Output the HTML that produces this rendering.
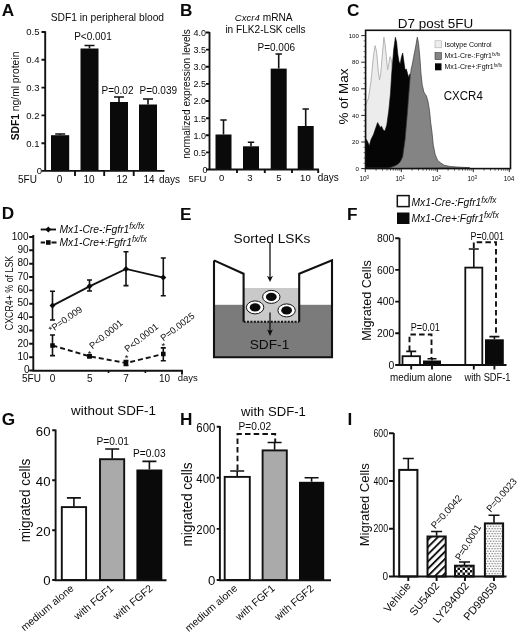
<!DOCTYPE html>
<html><head><meta charset="utf-8">
<style>
html,body{margin:0;padding:0;background:#fff;}
body{width:520px;height:635px;overflow:hidden;}
svg{display:block;will-change:transform;font-family:"Liberation Sans",sans-serif;fill:#0a0a0a;}
.b{font-weight:bold}
.i{font-style:italic}
.ax{stroke:#111;stroke-width:1.9;fill:none;stroke-linecap:butt}
.er{stroke:#111;stroke-width:1.6;fill:none}
.ds{stroke:#111;stroke-width:1.9;fill:none;stroke-dasharray:5.5 3.2}
</style></head><body>
<svg width="520" height="635" viewBox="0 0 520 635">
<rect width="520" height="635" fill="#fff"/>
<defs>
<pattern id="hatch" width="5.1" height="5.1" patternUnits="userSpaceOnUse" patternTransform="rotate(-45)"><rect width="5.1" height="5.1" fill="#fff"/><rect width="5.1" height="1.9" fill="#111"/></pattern>
<pattern id="check" width="5" height="5" patternUnits="userSpaceOnUse"><rect width="5" height="5" fill="#fff"/><rect width="2.5" height="2.5" fill="#111"/><rect x="2.5" y="2.5" width="2.5" height="2.5" fill="#111"/></pattern>
<pattern id="dots" width="2.8" height="5" patternUnits="userSpaceOnUse"><rect width="2.8" height="5" fill="#fdfdfd"/><circle cx="0.7" cy="1.2" r="0.62" fill="#555"/><circle cx="2.1" cy="3.7" r="0.62" fill="#555"/></pattern>
</defs>

<!-- ===== Panel A ===== -->
<g id="pA">
<text class="b" x="1.7" y="15.9" font-size="17.2">A</text>
<text x="50.700" y="20.700" font-size="10.250">SDF1 in peripheral blood</text>
<g font-size="9.5" text-anchor="end">
<text x="39.5" y="35">0.5</text><text x="39.5" y="63">0.4</text><text x="39.5" y="90.5">0.3</text><text x="39.5" y="118.5">0.2</text><text x="39.5" y="146.5">0.1</text><text x="42" y="174">0</text>
</g>
<text transform="translate(19.4,96) rotate(-90)" text-anchor="middle" font-size="10.3"><tspan class="b">SDF1</tspan> ng/ml protein</text>
<rect x="51" y="135.2" width="18.2" height="36"/>
<rect x="80.5" y="48.5" width="18" height="122.5"/>
<rect x="110" y="102" width="18" height="69"/>
<rect x="139" y="104.5" width="18" height="66.5"/>
<path class="er" d="M60.2 135V134M55.2 134h10 M89.500 48.500V45.500M84.5 45.500h10 M119 102V97M114 97h10 M148 104.500V99M143 99h10"/>
<path class="ax" d="M45.200 31.200V170.900H164.500 M41.500 32H45.200M41.500 59.800H45.200M41.500 87.600H45.200M41.500 115.400H45.200M41.500 143.200H45.200M41.500 170.900H45.200 M75 170.900v5M104.200 170.900v5M133.700 170.900v5"/>
<g font-size="10">
<text x="101.500" y="93.500">P=0.02</text><text x="139.500" y="93.500">P=0.039</text><text x="74.200" y="40">P&lt;0.001</text>
</g>
<g font-size="10" text-anchor="middle">
<text x="27.500" y="183">5FU</text><text x="59.500" y="183">0</text><text x="89" y="183">10</text><text x="122" y="183">12</text><text x="149" y="183">14</text><text x="169.500" y="183">days</text>
</g>
</g>

<!-- ===== Panel B ===== -->
<g id="pB">
<text class="b" x="180" y="15.9" font-size="17.2">B</text>
<text x="263.700" y="20.700" font-size="10.200" text-anchor="middle"><tspan class="i" font-size="9.600">Cxcr4</tspan>  mRNA</text>
<text x="265.500" y="32.500" font-size="10.100" text-anchor="middle">in FLK2-LSK cells</text>
<g font-size="9" text-anchor="end">
<text x="206" y="35.500">4.0</text><text x="206" y="52.700">3.5</text><text x="206" y="69.900">3.0</text><text x="206" y="87.100">2.5</text><text x="206" y="104.300">2.0</text><text x="206" y="121.500">1.5</text><text x="206" y="138.700">1.0</text><text x="206" y="155.900">0.5</text><text x="207.500" y="172.500">0</text>
</g>
<text transform="translate(189.6,94) rotate(-90)" text-anchor="middle" font-size="10.1">normalized expression levels</text>
<rect x="215.500" y="134.500" width="16" height="35"/>
<rect x="243" y="146.300" width="16" height="23.200"/>
<rect x="270.700" y="68.600" width="16" height="101"/>
<rect x="297.700" y="126" width="16" height="43.500"/>
<path class="er" stroke-width="1.8" d="M223.500 134.500V120M220.300 120h6.400 M251 146.300V142.300M247.800 142.300h6.400 M278.700 68.600V54M275.500 54h6.400 M305.700 126V109M302.500 109h6.400"/>
<path class="ax" d="M209.500 32V169.500H319 M206 32.500h3.500M206 49.600h3.500M206 66.800h3.500M206 83.900h3.500M206 101h3.500M206 118.200h3.500M206 135.300h3.500M206 152.400h3.500M206 169.500h3.500 M237 169.500v3.5M264.800 169.500v3.5M292 169.500v3.5M318.2 169.500v3.5"/>
<text x="257.5" y="50.700" font-size="10">P=0.006</text>
<g font-size="9.500" text-anchor="middle">
<text x="197.5" y="181.5">5FU</text><text x="221.700" y="181">0</text><text x="250" y="181">3</text><text x="279" y="181">5</text><text x="305.400" y="181">10</text><text x="328.3" y="181" font-size="10">days</text>
</g>
</g>

<!-- ===== Panel C ===== -->
<g id="pC">
<text class="b" x="347" y="16" font-size="17.2">C</text>
<text x="435.5" y="27.7" font-size="12.5" text-anchor="middle" textLength="75.5" lengthAdjust="spacingAndGlyphs">D7 post 5FU</text>
<text transform="translate(348.3,96.5) rotate(-90)" text-anchor="middle" font-size="12" textLength="56" lengthAdjust="spacingAndGlyphs">% of Max</text>
<path d="M365.4 167.7 L365.4 105.5 L368.5 98.2 L371.0 81.1 L373.4 56.7 L375.1 45.7 L376.6 51.8 L378.3 71.3 L379.5 79.9 L380.7 73.8 L382.4 54.3 L383.9 37.2 L385.1 44.5 L386.3 56.7 L387.6 70.1 L388.8 64.0 L390.0 56.7 L391.2 59.1 L392.9 73.8 L395.4 105.5 L399.0 142.1 L403.9 161.6 L408.8 167.7Z" fill="#ececec" stroke="#b4b4b4" stroke-width="1"/>
<path d="M365.4 167.7 L365.4 138.4 L367.3 140.9 L369.3 145.7 L371.0 139.6 L373.4 134.8 L375.9 127.4 L377.6 122.6 L379.0 125.0 L380.2 127.4 L381.5 126.2 L383.2 129.9 L384.9 131.1 L386.8 125.0 L388.8 110.4 L390.5 93.3 L391.7 73.8 L393.7 49.4 L395.4 37.2 L396.6 42.1 L397.8 54.3 L399.0 61.6 L400.2 64.0 L401.5 56.7 L402.7 53.0 L403.9 61.6 L405.1 70.1 L406.3 68.9 L407.6 73.8 L408.8 77.4 L410.0 73.8 L412.4 88.4 L416.1 122.6 L421.0 151.8 L427.1 167.7Z" fill="#050505" stroke="#050505" stroke-width="0.6"/>
<path d="M387.5 168.6 L390.5 167.6 L394 166.3 L397.5 164.6 L400.2 162 L402.7 156.7 L405.1 139.6 L407.6 110.4 L410.0 78.7 L411.2 68.9 L412.4 64.0 L413.7 56.7 L415.6 47.0 L417.3 37.2 L418.5 43.3 L419.8 56.7 L421.0 73.8 L422.2 84.8 L423.9 92.1 L425.4 94.5 L426.3 95.7 L427.8 100.6 L429.5 110.4 L430.7 122.6 L432.0 132.3 L433.2 144.5 L435.1 154.3 L437.6 160.4 L440.5 162.8 L444.1 165.2 L450.2 166.5 L460.0 167.2 L469.8 167.7Z" fill="#848484" stroke="#3a3a3a" stroke-width="0.7"/>
<rect x="365.6" y="30.3" width="144.9" height="138.3" fill="none" stroke="#111" stroke-width="1.6"/>
<path stroke="#111" stroke-width="0.9" fill="none" d="M361.2 35.6h4.1M361.2 62.2h4.1M361.2 88.8h4.1M361.2 115.4h4.1M361.2 142h4.1M361.2 168.6h4.1 M365.3 168.6v3.5M401.3 168.6v3.5M437.3 168.6v3.5M473.3 168.6v3.5M509.3 168.6v3.5"/>
<path stroke="#111" stroke-width="0.6" fill="none" d="M376.1 168.6v2.2M382.5 168.6v2.2M387.0 168.6v2.2M390.5 168.6v2.2M393.3 168.6v2.2M395.7 168.6v2.2M397.8 168.6v2.2M399.7 168.6v2.2M412.1 168.6v2.2M418.5 168.6v2.2M423.0 168.6v2.2M426.5 168.6v2.2M429.3 168.6v2.2M431.7 168.6v2.2M433.8 168.6v2.2M435.7 168.6v2.2M448.1 168.6v2.2M454.5 168.6v2.2M459.0 168.6v2.2M462.5 168.6v2.2M465.3 168.6v2.2M467.7 168.6v2.2M469.8 168.6v2.2M471.7 168.6v2.2M484.1 168.6v2.2M490.5 168.6v2.2M495.0 168.6v2.2M498.5 168.6v2.2M501.3 168.6v2.2M503.7 168.6v2.2M505.8 168.6v2.2M507.7 168.6v2.2"/>
<path stroke="#111" stroke-width="0.6" fill="none" d="M363.6 40.9h2M363.6 46.2h2M363.6 51.6h2M363.6 56.9h2M363.6 67.5h2M363.6 72.8h2M363.6 78.2h2M363.6 83.5h2M363.6 94.1h2M363.6 99.4h2M363.6 104.8h2M363.6 110.1h2M363.6 120.7h2M363.6 126.0h2M363.6 131.4h2M363.6 136.7h2M363.6 147.3h2M363.6 152.6h2M363.6 158.0h2M363.6 163.3h2"/>
<g font-size="6.1" text-anchor="end">
<text x="358.8" y="37.8">100</text><text x="358.8" y="64.4">80</text><text x="358.8" y="91.0">60</text><text x="358.8" y="117.6">40</text><text x="358.8" y="144.2">20</text><text x="358.8" y="170.8">0</text>
</g>
<g font-size="6.4" text-anchor="middle">
<text x="364.3" y="181.3">10<tspan dy="-2.5" font-size="4.5">0</tspan></text><text x="400.3" y="181.3">10<tspan dy="-2.5" font-size="4.5">1</tspan></text><text x="436.3" y="181.3">10<tspan dy="-2.5" font-size="4.5">2</tspan></text><text x="472.3" y="181.3">10<tspan dy="-2.5" font-size="4.5">3</tspan></text><text x="509" y="181.3">104</text>
</g>
<rect x="435" y="40.8" width="6.5" height="7" fill="#ededed" stroke="#aaa" stroke-width="0.6"/>
<rect x="435" y="52.6" width="6.5" height="7" fill="#848484" stroke="#3a3a3a" stroke-width="0.6"/>
<rect x="435" y="63.3" width="6.5" height="7" fill="#050505"/>
<g font-size="7">
<text x="444.5" y="46.5">Isotype Control</text>
<text x="444.5" y="58.2">Mx1-Cre-:Fgfr1<tspan dy="-2.2" font-size="4.6">fx/fx</tspan></text>
<text x="444.5" y="69">Mx1-Cre+:Fgfr1<tspan dy="-2.2" font-size="4.6">fx/fx</tspan></text>
</g>
<text x="443.8" y="99.7" font-size="12.5" textLength="39" lengthAdjust="spacingAndGlyphs">CXCR4</text>
</g>

<!-- ===== Panel D ===== -->
<g id="pD">
<text class="b" x="1.7" y="219.4" font-size="17.2">D</text>
<path class="ax" d="M40.700 229.500H56"/>
<path d="M48.300 226.500l3 3l-3 3l-3-3z"/>
<path class="ax" d="M40.700 242.500H45M51.5 242.5H56.5"/>
<rect x="46" y="240.200" width="4.600" height="4.600"/>
<g font-size="10.3" class="i">
<text x="59.5" y="232.500">Mx1-Cre-:Fgfr1<tspan dy="-3.6" font-size="8.2">fx/fx</tspan></text>
<text x="59.5" y="245.500">Mx1-Cre+:Fgfr1<tspan dy="-3.6" font-size="8.2">fx/fx</tspan></text>
</g>
<g font-size="10" text-anchor="end">
<text x="28.5" y="239.6">100</text><text x="28.5" y="253.0">90</text><text x="28.5" y="266.3">80</text><text x="28.5" y="279.7">70</text><text x="28.5" y="293.1">60</text><text x="28.5" y="306.4">50</text><text x="28.5" y="319.8">40</text><text x="28.5" y="333.2">30</text><text x="28.5" y="346.5">20</text><text x="28.5" y="359.9">10</text><text x="29.500" y="373.3">0</text>
</g>
<text transform="translate(13.2,293) rotate(-90)" text-anchor="middle" font-size="10.400" textLength="74.500" lengthAdjust="spacingAndGlyphs">CXCR4+ % of LSK</text>
<path class="ax" d="M33.300 235V370.800H182v3.500 M29.200 237H33.300M29.200 250.300H33.300M29.200 263.700H33.300M29.200 277H33.300M29.200 290.400H33.300M29.200 303.800H33.300M29.200 317.100H33.300M29.200 330.500H33.300M29.200 343.800H33.300M29.200 357.200H33.300M29.200 370.500H33.300"/>
<path class="er" stroke-width="1" d="M108.500 370.500v2.500M145.400 370.500v2.500"/>
<path class="ax" stroke-width="1.900" d="M52.500 305.600L89.500 286.300L126 268.900L163.300 277.600"/>
<path class="er" stroke-width="1.8" d="M52.500 291.300V320M50 291.300h5M50 320h5 M89.500 280V291M87 280h5M87 291h5 M126 251.700V285.600M123.500 251.700h5M123.500 285.600h5 M163.300 258V295.700M160.800 258h5M160.800 295.700h5"/>
<path d="M52.500 302.600l3 3l-3 3l-3-3z M89.500 283.300l3 3l-3 3l-3-3z M126 265.900l3 3l-3 3l-3-3z M163.300 274.600l3 3l-3 3l-3-3z"/>
<path class="ax" stroke-width="1.900" stroke-dasharray="5 3" d="M52.500 345.500L89.500 356.300L126 363L163.300 354"/>
<path class="er" stroke-width="1.8" d="M52.500 335V355.600M50 335h5M50 355.600h5 M89.500 354.800V357.800M87 354.800h5M87 357.800h5 M126 360.500V365.500M123.500 360.500h5M123.500 365.500h5 M163.300 347.900V360.700M160.800 347.900h5M160.800 360.700h5"/>
<path d="M50.200 343.200h4.600v4.600h-4.600z M87.200 354h4.600v4.600h-4.600z M123.700 360.700h4.600v4.600h-4.600z M161 351.700h4.600v4.600h-4.600z"/>
<g font-size="9.3">
<text transform="translate(51.5,333) rotate(-35)">*P=0.009</text>
<text transform="translate(92.5,349.5) rotate(-39.5)">P&lt;0.0001</text>
<text transform="translate(127.5,352.5) rotate(-38)">P&lt;0.0001</text>
<text transform="translate(163.5,341.5) rotate(-37.5)">P=0.0025</text>
<text x="87.7" y="356.5">*</text><text x="124.8" y="361">*</text><text x="161.5" y="349">*</text>
</g>
<g font-size="10" text-anchor="middle">
<text x="31.500" y="381.500">5FU</text><text x="52.500" y="381.500">0</text><text x="89.700" y="381.500">5</text><text x="126" y="381.500">7</text><text x="164.5" y="381.500">10</text><text x="187.8" y="380.7" font-size="9.500">days</text>
</g>
</g>

<!-- ===== Panel E ===== -->
<g id="pE">
<text class="b" x="180" y="219.5" font-size="17.2">E</text>
<text x="272" y="242.500" font-size="13.700" text-anchor="middle">Sorted LSKs</text>
<rect x="214" y="304.800" width="118" height="52.500" fill="#7b7b7b"/>
<rect x="243.600" y="288" width="55.600" height="33.800" fill="#c9c9c9"/>
<path d="M214 260.400V357.300H332V260.400L299.200 273.800V321.800M243.600 321.800V273.800L214 260.400" fill="none" stroke="#111" stroke-width="2.1" stroke-linejoin="miter"/>
<path d="M243.600 321.800H299.200" stroke="#111" stroke-width="2" stroke-dasharray="2 1.400" fill="none"/>
<g stroke="#111" stroke-width="1" fill="#fff">
<ellipse cx="271.300" cy="296.900" rx="8.7" ry="6.5"/><ellipse cx="255.100" cy="307.400" rx="8.7" ry="6.5"/><ellipse cx="286.600" cy="310.400" rx="8.7" ry="6.5"/>
</g>
<ellipse cx="271.300" cy="296.900" rx="5.4" ry="4.2"/><ellipse cx="255.100" cy="307.400" rx="5.4" ry="4.2"/><ellipse cx="286.600" cy="310.400" rx="5.4" ry="4.2"/>
<path d="M270 243V278" stroke="#111" stroke-width="1.300" fill="none"/><path d="M267 275.800L270 282L273 275.800L270 277.500z"/>
<path d="M270 312.500V332" stroke="#111" stroke-width="1.300" fill="none"/><path d="M267.200 329.500L270 336L272.800 329.500L270 331z"/>
<text x="269.500" y="348.700" font-size="13.7" text-anchor="middle">SDF-1</text>
</g>

<!-- ===== Panel F ===== -->
<g id="pF">
<text class="b" x="347" y="219.5" font-size="17.2">F</text>
<rect x="397.300" y="195.600" width="11.800" height="11" fill="#fff" stroke="#111" stroke-width="1.500"/>
<rect x="397" y="212.500" width="12.500" height="11.500"/>
<g font-size="10.300" class="i">
<text x="411.500" y="206.300">Mx1-Cre-:Fgfr1<tspan dy="-3.6" font-size="8.2">fx/fx</tspan></text>
<text x="411.500" y="221.800">Mx1-Cre+:Fgfr1<tspan dy="-3.6" font-size="8.2">fx/fx</tspan></text>
</g>
<g font-size="10.400" text-anchor="end">
<text x="394.300" y="241.900">800</text><text x="394.300" y="273.600">600</text><text x="394.300" y="305.300">400</text><text x="394.300" y="337">200</text><text x="394.300" y="368.700">0</text>
</g>
<text transform="translate(370.8,300.500) rotate(-90)" text-anchor="middle" font-size="12.500" textLength="80.500" lengthAdjust="spacingAndGlyphs">Migrated Cells</text>
<rect x="402.500" y="356.200" width="17.500" height="8.800" fill="#fff" stroke="#111" stroke-width="1.800"/>
<rect x="423" y="360.500" width="18" height="4.500"/>
<rect x="465.300" y="267.600" width="17" height="97.400" fill="#fff" stroke="#111" stroke-width="1.800"/>
<rect x="485" y="339.300" width="18.800" height="25.700"/>
<path class="er" d="M411.200 356.200V351.400M406.200 351.400h10 M432 360.500V358.700M427.500 358.700h9 M473.800 267.600V249M468.800 249h10 M494.400 339.300V336.600M489.400 336.600h10"/>
<path class="ax" d="M399.500 238V365H506.500 M395.200 238.200h4.300M395.200 269.900h4.300M395.200 301.600h4.300M395.200 333.300h4.300M395.200 365h4.300 M411.200 365v4.500M432 365v4.500M473.800 365v4.500M494.400 365v4.500"/>
<path class="ds" d="M409.500 351V334.500H431.500V358.500"/>
<path class="ds" d="M473.800 248V242.200H496V336.500"/>
<g font-size="10">
<text x="410.800" y="330.800" textLength="29" lengthAdjust="spacingAndGlyphs">P=0.01</text>
<text x="470.500" y="239.500" textLength="33.500" lengthAdjust="spacingAndGlyphs">P=0.001</text>
</g>
<g font-size="10">
<text x="390" y="381.300" textLength="62" lengthAdjust="spacingAndGlyphs">medium alone</text>
<text x="464.500" y="381.300" textLength="46" lengthAdjust="spacingAndGlyphs">with SDF-1</text>
</g>
</g>

<!-- ===== Panel G ===== -->
<g id="pG">
<text class="b" x="1.7" y="424.6" font-size="17.2">G</text>
<text x="113.5" y="415.2" font-size="13.4" text-anchor="middle">without SDF-1</text>
<g font-size="13.2" text-anchor="end">
<text x="50.5" y="435.6">60</text><text x="50.5" y="485.6">40</text><text x="50.5" y="535.7">20</text><text x="50.5" y="585.4">0</text>
</g>
<text transform="translate(29.6,500.5) rotate(-90)" text-anchor="middle" font-size="13.8" textLength="83.5" lengthAdjust="spacingAndGlyphs">migrated cells</text>
<rect x="61.8" y="507.1" width="24.3" height="72.9" fill="#fff" stroke="#111" stroke-width="1.9"/>
<rect x="100.0" y="459.2" width="24.2" height="120.8" fill="#aaa" stroke="#111" stroke-width="1.9"/>
<rect x="136.4" y="469.5" width="25.9" height="110.5"/>
<path class="er" stroke-width="1.5" d="M73.9 506.4V497.9M66.9 497.9h14.0 M112.2 458.5V449.0M105.2 449.0h14.0 M149.4 469.5V461.4M142.4 461.4h14.0"/>
<path class="ax" d="M55.6 429.6V580.3H166.5 M52.2 430.2H55.6 M52.2 480.2H55.6 M52.2 530.3H55.6 M52.2 580.0H55.6"/>
<g font-size="10.2"><text x="96.400" y="445.400">P=0.01</text><text x="133" y="457.100">P=0.03</text></g>
<g font-size="10.4" text-anchor="end">
<text transform="translate(74.5,589.5) rotate(-40)">medium alone</text><text transform="translate(114.3,589.5) rotate(-40)">with FGF1</text><text transform="translate(153.5,589.5) rotate(-40)">with FGF2</text>
</g>
</g>

<!-- ===== Panel H ===== -->
<g id="pH">
<text class="b" x="180" y="424.7" font-size="17.2">H</text>
<text x="273.5" y="415.9" font-size="13.1" text-anchor="middle">with SDF-1</text>
<g font-size="13.2" text-anchor="end">
<text x="215.3" y="432.1" textLength="19" lengthAdjust="spacingAndGlyphs">600</text><text x="215.3" y="483.2" textLength="19" lengthAdjust="spacingAndGlyphs">400</text><text x="215.3" y="534.3" textLength="19" lengthAdjust="spacingAndGlyphs">200</text><text x="215.3" y="585.4">0</text>
</g>
<text transform="translate(192.2,504.5) rotate(-90)" text-anchor="middle" font-size="13.8" textLength="84" lengthAdjust="spacingAndGlyphs">migrated cells</text>
<rect x="224.7" y="476.9" width="25.1" height="103.1" fill="#fff" stroke="#111" stroke-width="1.9"/>
<rect x="262.6" y="450.4" width="24.2" height="129.6" fill="#aaa" stroke="#111" stroke-width="1.9"/>
<rect x="299.0" y="481.8" width="25.2" height="98.2"/>
<path class="er" stroke-width="1.5" d="M237.2 476.2V471.0M230.2 471.0h14.0 M274.6 449.7V442.5M267.6 442.5h14.0 M311.6 481.8V477.8M304.6 477.8h14.0"/>
<path class="ax" d="M219.9 426V580.3H331.0 M216.7 426.7H219.9 M216.7 477.8H219.9 M216.7 528.9H219.9 M216.7 580.0H219.9"/>
<path class="ds" d="M237.500 470V434H275.200V442"/>
<g font-size="10.2"><text x="238.500" y="429.800">P=0.02</text></g>
<g font-size="10.4" text-anchor="end">
<text transform="translate(238,589.3) rotate(-41)">medium alone</text><text transform="translate(275.5,589.5) rotate(-41)">with FGF1</text><text transform="translate(314.5,589.5) rotate(-41)">with FGF2</text>
</g>
</g>

<!-- ===== Panel I ===== -->
<g id="pI">
<text class="b" x="347.500" y="424.700" font-size="17.200">I</text>
<g font-size="10" text-anchor="end">
<text x="388" y="436.700" textLength="14.500" lengthAdjust="spacingAndGlyphs">600</text><text x="388" y="484.500" textLength="14.500" lengthAdjust="spacingAndGlyphs">400</text><text x="388" y="532.300" textLength="14.500" lengthAdjust="spacingAndGlyphs">200</text><text x="388" y="580">0</text>
</g>
<text transform="translate(369,504.800) rotate(-90)" text-anchor="middle" font-size="12.500" textLength="83" lengthAdjust="spacingAndGlyphs">Migrated Cells</text>
<rect x="399.200" y="469.900" width="18.200" height="106.600" fill="#fff" stroke="#111" stroke-width="2"/>
<rect x="427.500" y="536.500" width="18.200" height="40" fill="url(#hatch)" stroke="#111" stroke-width="2"/>
<rect x="455" y="565.700" width="18.700" height="10.800" fill="url(#check)" stroke="#111" stroke-width="2"/>
<rect x="484.900" y="523.400" width="18.200" height="53.100" fill="url(#dots)" stroke="#111" stroke-width="2"/>
<path class="er" stroke-width="1.900" d="M408.300 469.200V458.500M402.800 458.500h11 M436.600 535.800V531.500M431.100 531.500h11 M464.500 565.200V562M459 562h11 M494 522.700V515.200M488.500 515.200h11"/>
<path class="ax" d="M393.800 433V576.500H506.500 M389 433.200h4.800M389 481h4.800M389 528.700h4.800M389 576.500h4.800 M408.300 576.500v4.500M436.600 576.500v4.500M465 576.500v4.500M494 576.500v4.500"/>
<g font-size="9.700">
<text transform="translate(435.3,529.3) rotate(-48.5)" textLength="41" lengthAdjust="spacingAndGlyphs">P=0.0042</text>
<text transform="translate(460.3,561) rotate(-58)" textLength="40" lengthAdjust="spacingAndGlyphs">P=0.0001</text>
<text transform="translate(490.7,512.8) rotate(-49.5)" textLength="41" lengthAdjust="spacingAndGlyphs">P=0.0023</text>
</g>
<g font-size="11" text-anchor="end">
<text transform="translate(411.5,586) rotate(-50)">Vehicle</text>
<text transform="translate(440,586) rotate(-50)">SU5402</text>
<text transform="translate(469.5,586) rotate(-50)">LY294002</text>
<text transform="translate(498,586) rotate(-50)">PD98059</text>
</g>
</g>
</svg>
</body></html>
